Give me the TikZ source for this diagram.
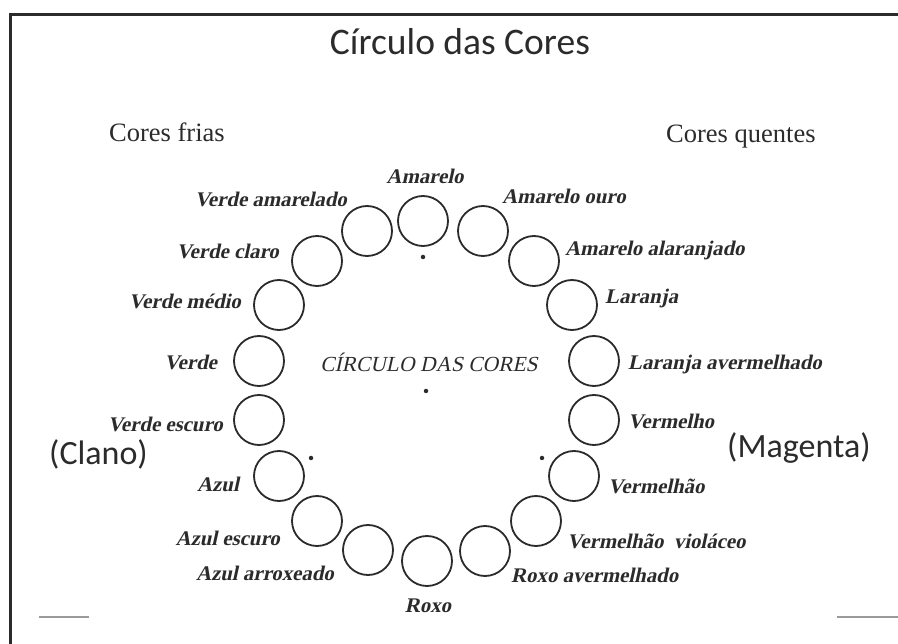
\documentclass[tikz,border=0pt]{standalone}
\usepackage{fontspec}
\setmainfont{Liberation Serif}[ItalicFont={Liberation Serif}, ItalicFeatures={FakeSlant=0.22}, BoldFont={Liberation Serif Bold}, BoldItalicFont={Liberation Serif Bold}, BoldItalicFeatures={FakeSlant=0.22}]
\newfontfamily\slidefont{Carlito}
\definecolor{ink}{HTML}{2B2B2B}
\definecolor{rulegray}{HTML}{9A9A9A}

\begin{document}
\begin{tikzpicture}[x=1pt, y=-1pt,
    tone/.style ={circle, draw=ink, line width=1.8pt, minimum size=50pt, inner sep=0pt},
    primary/.style ={circle, fill=ink, minimum size=4.5pt, inner sep=0pt},
    hue/.style ={font=\bfseries\itshape\fontsize{20.8}{20.8}\selectfont, text=ink, inner sep=0pt},
    side/.style ={font=\fontsize{26.5}{26.5}\selectfont, text=ink, inner sep=0pt},
    slide/.style ={font=\slidefont\fontsize{34}{34}\selectfont, text=ink, inner sep=0pt}]
   \useasboundingbox (0,0) rectangle (898,644);
   % frame and rules
   \draw[ink, line width=3pt] (898,15) -- (10,15) -- (10,644);
   \draw[rulegray, line width=1.5pt] (39,617) -- (89,617);
   \draw[rulegray, line width=1.5pt] (837,617) -- (898,617);
   % headings
   \node[slide, font=\slidefont\fontsize{37.5}{37.5}\selectfont, anchor=base] (title) at (460,55) {Círculo das Cores};
   \node[side, anchor=base west] (frias) at (109,142) {Cores frias};
   \node[side, anchor=base west] (quentes) at (666,143) {Cores quentes};
   \node[slide, anchor=base west] (ciano) at (49,465) {(Clano)};
   \node[slide, anchor=base west] (magenta) at (727,458) {(Magenta)};
   \node[font=\itshape\fontsize{21.5}{21.5}\selectfont, text=ink, inner sep=0pt, anchor=base] (circulo) at (429,372) {CÍRCULO DAS CORES};
   % the ring of colours
   \node[tone] (amarelo) at (423,221) {};
   \node[tone] (amareloouro) at (483,231) {};
   \node[tone] (alaranjado) at (534,261) {};
   \node[tone] (laranja) at (572,305) {};
   \node[tone] (laranjaav) at (594,361) {};
   \node[tone] (vermelho) at (594,420) {};
   \node[tone] (vermelhao) at (574,476) {};
   \node[tone] (violaceo) at (536,521) {};
   \node[tone] (roxoav) at (485,551) {};
   \node[tone] (roxo) at (427,561) {};
   \node[tone] (arroxeado) at (368,550) {};
   \node[tone] (azulescuro) at (317,521) {};
   \node[tone] (azul) at (279,476) {};
   \node[tone] (verdeescuro) at (259,420) {};
   \node[tone] (verde) at (259,361) {};
   \node[tone] (verdemedio) at (279,305) {};
   \node[tone] (verdeclaro) at (317,261) {};
   \node[tone] (amarelado) at (367,231) {};
   % primaries and centre
   \node[primary] (ptop) at (423,257) {};
   \node[primary] (pleft) at (311,458) {};
   \node[primary] (pright) at (542,458) {};
   \node[primary] (centre) at (426,391) {};
   % names
   \node[hue, anchor=base] (lamarelo) at (425,184) {Amarelo};
   \node[hue, anchor=base west] (lamareloouro) at (502,204) {Amarelo ouro};
   \node[hue, anchor=base west] (lalaranjado) at (565,256) {Amarelo alaranjado};
   \node[hue, anchor=base west] (llaranja) at (605,304) {Laranja};
   \node[hue, anchor=base west] (llaranjaav) at (628,370) {Laranja avermelhado};
   \node[hue, anchor=base west] (lvermelho) at (628,429) {Vermelho};
   \node[hue, anchor=base west] (lvermelhao) at (608,494) {Vermelhão};
   \node[hue, anchor=base west] (lvioláceo) at (567,548) {Vermelhão\ \ violáceo};
   \node[hue, anchor=base west] (lroxoav) at (511,582) {Roxo avermelhado};
   \node[hue, anchor=base] (lroxo) at (428,612) {Roxo};
   \node[hue, anchor=base east] (larroxeado) at (334,580) {Azul arroxeado};
   \node[hue, anchor=base east] (lazulescuro) at (280,545) {Azul escuro};
   \node[hue, anchor=base east] (lazul) at (239,492) {Azul};
   \node[hue, anchor=base east] (lverdeescuro) at (223,432) {Verde escuro};
   \node[hue, anchor=base east] (lverde) at (217,370) {Verde};
   \node[hue, anchor=base east] (lverdemedio) at (241,309) {Verde médio};
   \node[hue, anchor=base east] (lverdeclaro) at (279,259) {Verde claro};
   \node[hue, anchor=base east] (lamarelado) at (347,207) {Verde amarelado};
\end{tikzpicture}
\end{document}
